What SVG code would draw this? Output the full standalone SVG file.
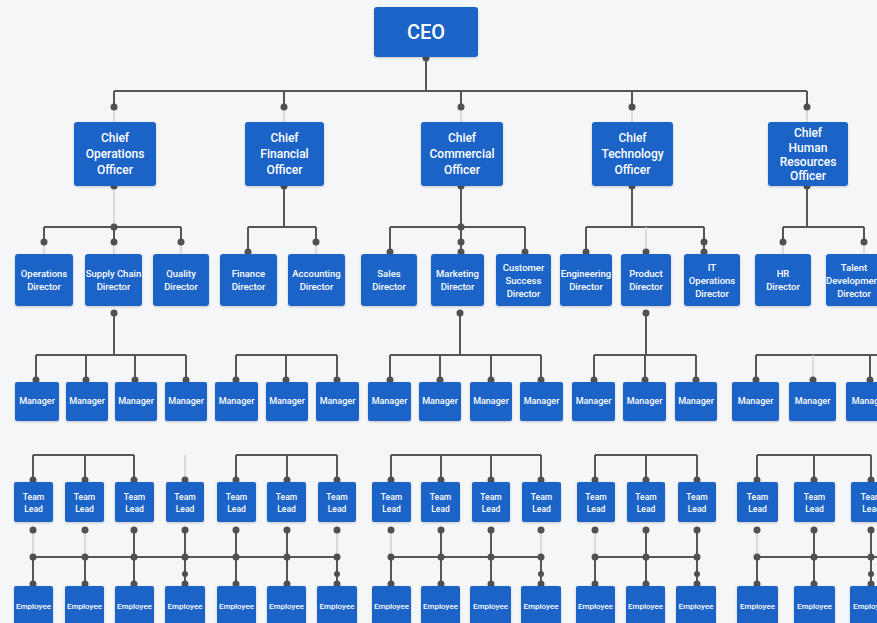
<svg xmlns="http://www.w3.org/2000/svg" width="877" height="623" viewBox="0 0 877 623">
<defs>
<style>
.bx{fill:#1f63c7}
.t{fill:#fff;font-family:Roboto,"Liberation Sans",sans-serif;font-weight:500;text-anchor:middle}
.t0{font-size:20px}
.t1{font-size:12px}
.t2{font-size:9.5px}
.t3{font-size:9px}
.t4{font-size:8.5px}
.t5{font-size:8px}
.ln{stroke:#565656;stroke-width:2;fill:none}
.fl{stroke:#cfd2d6;stroke-width:1.5;fill:none}
.dt{fill:#505050}
</style>
<filter id="sh" x="-10%" y="-10%" width="120%" height="130%"><feDropShadow dx="0" dy="1" stdDeviation="1" flood-color="#000" flood-opacity="0.2"/></filter>
</defs>
<rect width="877" height="623" fill="#f5f6f8"/>

<g id="connectors">
<!-- CEO to chiefs -->
<path class="ln" d="M426 58V91M114 91H807M114 91V107M284 91V107M461 91V107M632 91V107M807 91V107"/>
<path class="fl" d="M114 107V122M284 107V122M461 107V122M632 107V122M807 107V122"/>
<g class="dt"><circle cx="426" cy="58" r="3.5"/><circle cx="114" cy="107" r="3.5"/><circle cx="284" cy="107" r="3.5"/><circle cx="461" cy="107" r="3.5"/><circle cx="632" cy="107" r="3.5"/><circle cx="807" cy="107" r="3.5"/></g>

<!-- chiefs to directors -->
<path class="fl" d="M114 186V227"/>
<path class="ln" d="M44 227H181M44 227V242M114 227V242M181 227V242"/>
<path class="fl" d="M44 242V254M114 242V254M181 242V254"/>
<path class="ln" d="M284 186V227M248 227H316M248 227V252M316 227V242"/>
<path class="fl" d="M316 242V254"/>
<path class="ln" d="M461 186V227M390 227H525M390 227V252M461 227V252M525 227V252"/>
<path class="ln" d="M632 186V227M586 227H704M586 227V252M704 227V252"/>
<path class="fl" d="M646 227V252"/>
<path class="ln" d="M807 186V227M783 227H864M783 227V242M864 227V242"/>
<path class="fl" d="M783 242V254M864 242V254"/>
<g class="dt">
<circle cx="114" cy="186" r="3.5"/><circle cx="284" cy="186" r="3.5"/><circle cx="461" cy="186" r="3.5"/><circle cx="632" cy="186" r="3.5"/><circle cx="807" cy="186" r="3.5"/>
<circle cx="114" cy="227" r="3.5"/><circle cx="461" cy="227" r="3.5"/>
<circle cx="44" cy="242" r="3.5"/><circle cx="114" cy="242" r="3.5"/><circle cx="181" cy="242" r="3.5"/>
<circle cx="248" cy="252" r="3.5"/><circle cx="316" cy="242" r="3.5"/>
<circle cx="390" cy="252" r="3.5"/><circle cx="461" cy="242" r="3.5"/><circle cx="461" cy="252" r="3.5"/><circle cx="525" cy="252" r="3.5"/>
<circle cx="586" cy="252" r="3.5"/><circle cx="646" cy="252" r="3.5"/><circle cx="704" cy="242" r="3.5"/><circle cx="704" cy="252" r="3.5"/>
<circle cx="783" cy="242" r="3.5"/><circle cx="864" cy="242" r="3.5"/>
</g>

<!-- directors to managers -->
<path class="ln" d="M114 313V355M36 355H186M36 355V380M86 355V380M135 355V380M186 355V380"/>
<path class="ln" d="M236 355H337M236 355V380M286 355V380M337 355V380"/>
<path class="ln" d="M460 313V355M390 355H541M390 355V380M440 355V380M491 355V380M541 355V380"/>
<path class="ln" d="M646 313V355M594 355H696M594 355V380M645 355V380M696 355V380"/>
<path class="ln" d="M756 355H877M756 355V380M870 355V380"/>
<path class="fl" d="M813 355V380"/>
<g class="dt">
<circle cx="114" cy="313" r="3.5"/><circle cx="460" cy="313" r="3.5"/><circle cx="646" cy="313" r="3.5"/>
<circle cx="36" cy="380" r="3.5"/><circle cx="86" cy="380" r="3.5"/><circle cx="135" cy="380" r="3.5"/><circle cx="186" cy="380" r="3.5"/>
<circle cx="236" cy="380" r="3.5"/><circle cx="286" cy="380" r="3.5"/><circle cx="337" cy="380" r="3.5"/>
<circle cx="390" cy="380" r="3.5"/><circle cx="440" cy="380" r="3.5"/><circle cx="491" cy="380" r="3.5"/><circle cx="541" cy="380" r="3.5"/>
<circle cx="594" cy="380" r="3.5"/><circle cx="645" cy="380" r="3.5"/><circle cx="696" cy="380" r="3.5"/>
<circle cx="756" cy="380" r="3.5"/><circle cx="813" cy="380" r="3.5"/><circle cx="870" cy="380" r="3.5"/>
</g>

<!-- to team leads -->
<path class="ln" d="M33 455H134M33 455V480M85 455V480M134 455V480"/>
<path class="fl" d="M185 455V480"/>
<path class="ln" d="M236 455H337M236 455V480M287 455V480M337 455V480"/>
<path class="ln" d="M391 455H541M391 455V480M441 455V480M491 455V480M541 455V480"/>
<path class="ln" d="M595 455H697M595 455V480M646 455V480M697 455V480"/>
<path class="ln" d="M757 455H871M757 455V480M814 455V480M871 455V480"/>
<g class="dt">
<circle cx="33" cy="480" r="3.5"/><circle cx="85" cy="480" r="3.5"/><circle cx="134" cy="480" r="3.5"/><circle cx="185" cy="480" r="3.5"/>
<circle cx="236" cy="480" r="3.5"/><circle cx="287" cy="480" r="3.5"/><circle cx="337" cy="480" r="3.5"/>
<circle cx="391" cy="480" r="3.5"/><circle cx="441" cy="480" r="3.5"/><circle cx="491" cy="480" r="3.5"/><circle cx="541" cy="480" r="3.5"/>
<circle cx="595" cy="480" r="3.5"/><circle cx="646" cy="480" r="3.5"/><circle cx="697" cy="480" r="3.5"/>
<circle cx="757" cy="480" r="3.5"/><circle cx="814" cy="480" r="3.5"/><circle cx="871" cy="480" r="3.5"/>
</g>

<!-- team leads to employees -->
<path class="ln" d="M33 557H337M391 557H541M595 557H697M757 557H877"/>
<path class="fl" d="M33 530V557M85 530V557M337 530V557M391 530V557M541 530V557M595 530V557M757 530V557"/>
<path class="ln" d="M134 530V557M185 530V557M236 530V557M287 530V557M441 530V557M491 530V557M646 530V557M697 530V557M814 530V557M871 530V557"/>
<path class="ln" d="M33 557V584M85 557V584M134 557V584M185 557V584M236 557V584M287 557V584M337 557V584M391 557V584M441 557V584M491 557V584M541 557V584M595 557V584M646 557V584M697 557V584M757 557V584M814 557V584M871 557V584"/>
<g class="dt">
<circle cx="33" cy="530" r="3.5"/><circle cx="85" cy="530" r="3.5"/><circle cx="134" cy="530" r="3.5"/><circle cx="185" cy="530" r="3.5"/><circle cx="236" cy="530" r="3.5"/><circle cx="287" cy="530" r="3.5"/><circle cx="337" cy="530" r="3.5"/>
<circle cx="391" cy="530" r="3.5"/><circle cx="441" cy="530" r="3.5"/><circle cx="491" cy="530" r="3.5"/><circle cx="541" cy="530" r="3.5"/>
<circle cx="595" cy="530" r="3.5"/><circle cx="646" cy="530" r="3.5"/><circle cx="697" cy="530" r="3.5"/>
<circle cx="757" cy="530" r="3.5"/><circle cx="814" cy="530" r="3.5"/><circle cx="871" cy="530" r="3.5"/>
<circle cx="33" cy="557" r="3.5"/><circle cx="85" cy="557" r="3.5"/><circle cx="134" cy="557" r="3.5"/><circle cx="185" cy="557" r="3.5"/><circle cx="236" cy="557" r="3.5"/><circle cx="287" cy="557" r="3.5"/><circle cx="337" cy="557" r="3.5"/>
<circle cx="391" cy="557" r="3.5"/><circle cx="441" cy="557" r="3.5"/><circle cx="491" cy="557" r="3.5"/><circle cx="541" cy="557" r="3.5"/>
<circle cx="595" cy="557" r="3.5"/><circle cx="646" cy="557" r="3.5"/><circle cx="697" cy="557" r="3.5"/>
<circle cx="757" cy="557" r="3.5"/><circle cx="814" cy="557" r="3.5"/><circle cx="871" cy="557" r="3.5"/>
<circle cx="185" cy="574" r="3"/><circle cx="337" cy="574" r="3"/><circle cx="541" cy="574" r="3"/><circle cx="697" cy="574" r="3"/><circle cx="871" cy="574" r="3"/>
<circle cx="33" cy="584" r="3.5"/><circle cx="85" cy="584" r="3.5"/><circle cx="134" cy="584" r="3.5"/><circle cx="185" cy="584" r="3.5"/><circle cx="236" cy="584" r="3.5"/><circle cx="287" cy="584" r="3.5"/><circle cx="337" cy="584" r="3.5"/>
<circle cx="391" cy="584" r="3.5"/><circle cx="441" cy="584" r="3.5"/><circle cx="491" cy="584" r="3.5"/><circle cx="541" cy="584" r="3.5"/>
<circle cx="595" cy="584" r="3.5"/><circle cx="646" cy="584" r="3.5"/><circle cx="697" cy="584" r="3.5"/>
<circle cx="757" cy="584" r="3.5"/><circle cx="814" cy="584" r="3.5"/><circle cx="871" cy="584" r="3.5"/>
</g>
</g>

<!-- CEO -->
<g id="ceo"><rect class="bx" filter="url(#sh)" x="374" y="7" width="104" height="50" rx="3"/><text class="t t0" x="426" y="39">CEO</text></g>

<!-- Chiefs -->
<g id="coo"><rect class="bx" filter="url(#sh)" x="74" y="122" width="82" height="64" rx="3"/><text class="t t1" x="115" y="142">Chief</text><text class="t t1" x="115" y="158">Operations</text><text class="t t1" x="115" y="174">Officer</text></g>
<g id="cfo"><rect class="bx" filter="url(#sh)" x="245" y="122" width="79" height="64" rx="3"/><text class="t t1" x="284.5" y="142">Chief</text><text class="t t1" x="284.5" y="158">Financial</text><text class="t t1" x="284.5" y="174">Officer</text></g>
<g id="cco"><rect class="bx" filter="url(#sh)" x="421" y="122" width="82" height="64" rx="3"/><text class="t t1" x="462" y="142">Chief</text><text class="t t1" x="462" y="158">Commercial</text><text class="t t1" x="462" y="174">Officer</text></g>
<g id="cto"><rect class="bx" filter="url(#sh)" x="592" y="122" width="81" height="64" rx="3"/><text class="t t1" x="632.5" y="142">Chief</text><text class="t t1" x="632.5" y="158">Technology</text><text class="t t1" x="632.5" y="174">Officer</text></g>
<g id="chro"><rect class="bx" filter="url(#sh)" x="768" y="122" width="80" height="64" rx="3"/><text class="t t1" x="808" y="137">Chief</text><text class="t t1" x="808" y="152">Human</text><text class="t t1" x="808" y="166">Resources</text><text class="t t1" x="808" y="180">Officer</text></g>

<!-- Directors -->
<g id="d-ops"><rect class="bx" filter="url(#sh)" x="15" y="254" width="58" height="52" rx="3"/><text class="t t2" x="44" y="276.5">Operations</text><text class="t t2" x="44" y="289.5">Director</text></g>
<g id="d-supply"><rect class="bx" filter="url(#sh)" x="85" y="254" width="57" height="52" rx="3"/><text class="t t2" x="113.5" y="276.5">Supply Chain</text><text class="t t2" x="113.5" y="289.5">Director</text></g>
<g id="d-quality"><rect class="bx" filter="url(#sh)" x="153" y="254" width="56" height="52" rx="3"/><text class="t t2" x="181" y="276.5">Quality</text><text class="t t2" x="181" y="289.5">Director</text></g>
<g id="d-finance"><rect class="bx" filter="url(#sh)" x="220" y="254" width="57" height="52" rx="3"/><text class="t t2" x="248.5" y="276.5">Finance</text><text class="t t2" x="248.5" y="289.5">Director</text></g>
<g id="d-accounting"><rect class="bx" filter="url(#sh)" x="288" y="254" width="57" height="52" rx="3"/><text class="t t2" x="316.5" y="276.5">Accounting</text><text class="t t2" x="316.5" y="289.5">Director</text></g>
<g id="d-sales"><rect class="bx" filter="url(#sh)" x="361" y="254" width="56" height="52" rx="3"/><text class="t t2" x="389" y="276.5">Sales</text><text class="t t2" x="389" y="289.5">Director</text></g>
<g id="d-marketing"><rect class="bx" filter="url(#sh)" x="431" y="254" width="53" height="52" rx="3"/><text class="t t2" x="457.5" y="276.5">Marketing</text><text class="t t2" x="457.5" y="289.5">Director</text></g>
<g id="d-cs"><rect class="bx" filter="url(#sh)" x="496" y="254" width="55" height="52" rx="3"/><text class="t t2" x="523.5" y="270.5">Customer</text><text class="t t2" x="523.5" y="283.5">Success</text><text class="t t2" x="523.5" y="296.5">Director</text></g>
<g id="d-eng"><rect class="bx" filter="url(#sh)" x="560" y="254" width="52" height="52" rx="3"/><text class="t t2" x="586" y="276.5">Engineering</text><text class="t t2" x="586" y="289.5">Director</text></g>
<g id="d-product"><rect class="bx" filter="url(#sh)" x="621" y="254" width="50" height="52" rx="3"/><text class="t t2" x="646" y="276.5">Product</text><text class="t t2" x="646" y="289.5">Director</text></g>
<g id="d-itops"><rect class="bx" filter="url(#sh)" x="684" y="254" width="56" height="52" rx="3"/><text class="t t2" x="712" y="270.5">IT</text><text class="t t2" x="712" y="283.5">Operations</text><text class="t t2" x="712" y="296.5">Director</text></g>
<g id="d-hr"><rect class="bx" filter="url(#sh)" x="755" y="254" width="56" height="52" rx="3"/><text class="t t2" x="783" y="276.5">HR</text><text class="t t2" x="783" y="289.5">Director</text></g>
<g id="d-talent"><rect class="bx" filter="url(#sh)" x="826" y="254" width="56" height="52" rx="3"/><text class="t t2" x="854" y="270.5">Talent</text><text class="t t2" x="854" y="283.5">Development</text><text class="t t2" x="854" y="296.5">Director</text></g>

<!-- Managers -->
<g id="m1"><rect class="bx" filter="url(#sh)" x="15" y="382" width="44" height="39" rx="2"/><text class="t t3" x="37" y="404">Manager</text></g>
<g id="m2"><rect class="bx" filter="url(#sh)" x="66" y="382" width="42" height="39" rx="2"/><text class="t t3" x="87" y="404">Manager</text></g>
<g id="m3"><rect class="bx" filter="url(#sh)" x="115" y="382" width="42" height="39" rx="2"/><text class="t t3" x="136" y="404">Manager</text></g>
<g id="m4"><rect class="bx" filter="url(#sh)" x="165" y="382" width="42" height="39" rx="2"/><text class="t t3" x="186" y="404">Manager</text></g>
<g id="m5"><rect class="bx" filter="url(#sh)" x="215" y="382" width="43" height="39" rx="2"/><text class="t t3" x="236.5" y="404">Manager</text></g>
<g id="m6"><rect class="bx" filter="url(#sh)" x="266" y="382" width="42" height="39" rx="2"/><text class="t t3" x="287" y="404">Manager</text></g>
<g id="m7"><rect class="bx" filter="url(#sh)" x="316" y="382" width="43" height="39" rx="2"/><text class="t t3" x="337.5" y="404">Manager</text></g>
<g id="m8"><rect class="bx" filter="url(#sh)" x="368" y="382" width="43" height="39" rx="2"/><text class="t t3" x="389.5" y="404">Manager</text></g>
<g id="m9"><rect class="bx" filter="url(#sh)" x="419" y="382" width="42" height="39" rx="2"/><text class="t t3" x="440" y="404">Manager</text></g>
<g id="m10"><rect class="bx" filter="url(#sh)" x="470" y="382" width="42" height="39" rx="2"/><text class="t t3" x="491" y="404">Manager</text></g>
<g id="m11"><rect class="bx" filter="url(#sh)" x="520" y="382" width="43" height="39" rx="2"/><text class="t t3" x="541.5" y="404">Manager</text></g>
<g id="m12"><rect class="bx" filter="url(#sh)" x="572" y="382" width="43" height="39" rx="2"/><text class="t t3" x="593.5" y="404">Manager</text></g>
<g id="m13"><rect class="bx" filter="url(#sh)" x="623" y="382" width="43" height="39" rx="2"/><text class="t t3" x="644.5" y="404">Manager</text></g>
<g id="m14"><rect class="bx" filter="url(#sh)" x="675" y="382" width="42" height="39" rx="2"/><text class="t t3" x="696" y="404">Manager</text></g>
<g id="m15"><rect class="bx" filter="url(#sh)" x="732" y="382" width="47" height="39" rx="2"/><text class="t t3" x="755.5" y="404">Manager</text></g>
<g id="m16"><rect class="bx" filter="url(#sh)" x="789" y="382" width="47" height="39" rx="2"/><text class="t t3" x="812.5" y="404">Manager</text></g>
<g id="m17"><rect class="bx" filter="url(#sh)" x="846" y="382" width="47" height="39" rx="2"/><text class="t t3" x="869.5" y="404">Manager</text></g>

<!-- Team Leads -->
<g id="tl1"><rect class="bx" filter="url(#sh)" x="14" y="482" width="39" height="40" rx="2"/><text class="t t4" x="33.5" y="500">Team</text><text class="t t4" x="33.5" y="512">Lead</text></g>
<g id="tl2"><rect class="bx" filter="url(#sh)" x="65" y="482" width="39" height="40" rx="2"/><text class="t t4" x="84.5" y="500">Team</text><text class="t t4" x="84.5" y="512">Lead</text></g>
<g id="tl3"><rect class="bx" filter="url(#sh)" x="115" y="482" width="39" height="40" rx="2"/><text class="t t4" x="134.5" y="500">Team</text><text class="t t4" x="134.5" y="512">Lead</text></g>
<g id="tl4"><rect class="bx" filter="url(#sh)" x="166" y="482" width="38" height="40" rx="2"/><text class="t t4" x="185" y="500">Team</text><text class="t t4" x="185" y="512">Lead</text></g>
<g id="tl5"><rect class="bx" filter="url(#sh)" x="217" y="482" width="39" height="40" rx="2"/><text class="t t4" x="236.5" y="500">Team</text><text class="t t4" x="236.5" y="512">Lead</text></g>
<g id="tl6"><rect class="bx" filter="url(#sh)" x="267" y="482" width="39" height="40" rx="2"/><text class="t t4" x="286.5" y="500">Team</text><text class="t t4" x="286.5" y="512">Lead</text></g>
<g id="tl7"><rect class="bx" filter="url(#sh)" x="318" y="482" width="38" height="40" rx="2"/><text class="t t4" x="337" y="500">Team</text><text class="t t4" x="337" y="512">Lead</text></g>
<g id="tl8"><rect class="bx" filter="url(#sh)" x="372" y="482" width="39" height="40" rx="2"/><text class="t t4" x="391.5" y="500">Team</text><text class="t t4" x="391.5" y="512">Lead</text></g>
<g id="tl9"><rect class="bx" filter="url(#sh)" x="421" y="482" width="39" height="40" rx="2"/><text class="t t4" x="440.5" y="500">Team</text><text class="t t4" x="440.5" y="512">Lead</text></g>
<g id="tl10"><rect class="bx" filter="url(#sh)" x="472" y="482" width="38" height="40" rx="2"/><text class="t t4" x="491" y="500">Team</text><text class="t t4" x="491" y="512">Lead</text></g>
<g id="tl11"><rect class="bx" filter="url(#sh)" x="522" y="482" width="39" height="40" rx="2"/><text class="t t4" x="541.5" y="500">Team</text><text class="t t4" x="541.5" y="512">Lead</text></g>
<g id="tl12"><rect class="bx" filter="url(#sh)" x="577" y="482" width="38" height="40" rx="2"/><text class="t t4" x="596" y="500">Team</text><text class="t t4" x="596" y="512">Lead</text></g>
<g id="tl13"><rect class="bx" filter="url(#sh)" x="627" y="482" width="38" height="40" rx="2"/><text class="t t4" x="646" y="500">Team</text><text class="t t4" x="646" y="512">Lead</text></g>
<g id="tl14"><rect class="bx" filter="url(#sh)" x="678" y="482" width="38" height="40" rx="2"/><text class="t t4" x="697" y="500">Team</text><text class="t t4" x="697" y="512">Lead</text></g>
<g id="tl15"><rect class="bx" filter="url(#sh)" x="737" y="482" width="41" height="40" rx="2"/><text class="t t4" x="757.5" y="500">Team</text><text class="t t4" x="757.5" y="512">Lead</text></g>
<g id="tl16"><rect class="bx" filter="url(#sh)" x="794" y="482" width="41" height="40" rx="2"/><text class="t t4" x="814.5" y="500">Team</text><text class="t t4" x="814.5" y="512">Lead</text></g>
<g id="tl17"><rect class="bx" filter="url(#sh)" x="851" y="482" width="41" height="40" rx="2"/><text class="t t4" x="871.5" y="500">Team</text><text class="t t4" x="871.5" y="512">Lead</text></g>

<!-- Employees -->
<g id="e1"><rect class="bx" filter="url(#sh)" x="14" y="586" width="39" height="44" rx="2"/><text class="t t5" x="33.5" y="609">Employee</text></g>
<g id="e2"><rect class="bx" filter="url(#sh)" x="65" y="586" width="39" height="44" rx="2"/><text class="t t5" x="84.5" y="609">Employee</text></g>
<g id="e3"><rect class="bx" filter="url(#sh)" x="115" y="586" width="39" height="44" rx="2"/><text class="t t5" x="134.5" y="609">Employee</text></g>
<g id="e4"><rect class="bx" filter="url(#sh)" x="165" y="586" width="40" height="44" rx="2"/><text class="t t5" x="185" y="609">Employee</text></g>
<g id="e5"><rect class="bx" filter="url(#sh)" x="217" y="586" width="39" height="44" rx="2"/><text class="t t5" x="236.5" y="609">Employee</text></g>
<g id="e6"><rect class="bx" filter="url(#sh)" x="267" y="586" width="39" height="44" rx="2"/><text class="t t5" x="286.5" y="609">Employee</text></g>
<g id="e7"><rect class="bx" filter="url(#sh)" x="317" y="586" width="40" height="44" rx="2"/><text class="t t5" x="337" y="609">Employee</text></g>
<g id="e8"><rect class="bx" filter="url(#sh)" x="372" y="586" width="39" height="44" rx="2"/><text class="t t5" x="391.5" y="609">Employee</text></g>
<g id="e9"><rect class="bx" filter="url(#sh)" x="421" y="586" width="39" height="44" rx="2"/><text class="t t5" x="440.5" y="609">Employee</text></g>
<g id="e10"><rect class="bx" filter="url(#sh)" x="470" y="586" width="41" height="44" rx="2"/><text class="t t5" x="490.5" y="609">Employee</text></g>
<g id="e11"><rect class="bx" filter="url(#sh)" x="521" y="586" width="40" height="44" rx="2"/><text class="t t5" x="541" y="609">Employee</text></g>
<g id="e12"><rect class="bx" filter="url(#sh)" x="576" y="586" width="39" height="44" rx="2"/><text class="t t5" x="595.5" y="609">Employee</text></g>
<g id="e13"><rect class="bx" filter="url(#sh)" x="626" y="586" width="39" height="44" rx="2"/><text class="t t5" x="645.5" y="609">Employee</text></g>
<g id="e14"><rect class="bx" filter="url(#sh)" x="676" y="586" width="40" height="44" rx="2"/><text class="t t5" x="696" y="609">Employee</text></g>
<g id="e15"><rect class="bx" filter="url(#sh)" x="737" y="586" width="41" height="44" rx="2"/><text class="t t5" x="757.5" y="609">Employee</text></g>
<g id="e16"><rect class="bx" filter="url(#sh)" x="794" y="586" width="41" height="44" rx="2"/><text class="t t5" x="814.5" y="609">Employee</text></g>
<g id="e17"><rect class="bx" filter="url(#sh)" x="850" y="586" width="41" height="44" rx="2"/><text class="t t5" x="870.5" y="609">Employee</text></g>
</svg>
